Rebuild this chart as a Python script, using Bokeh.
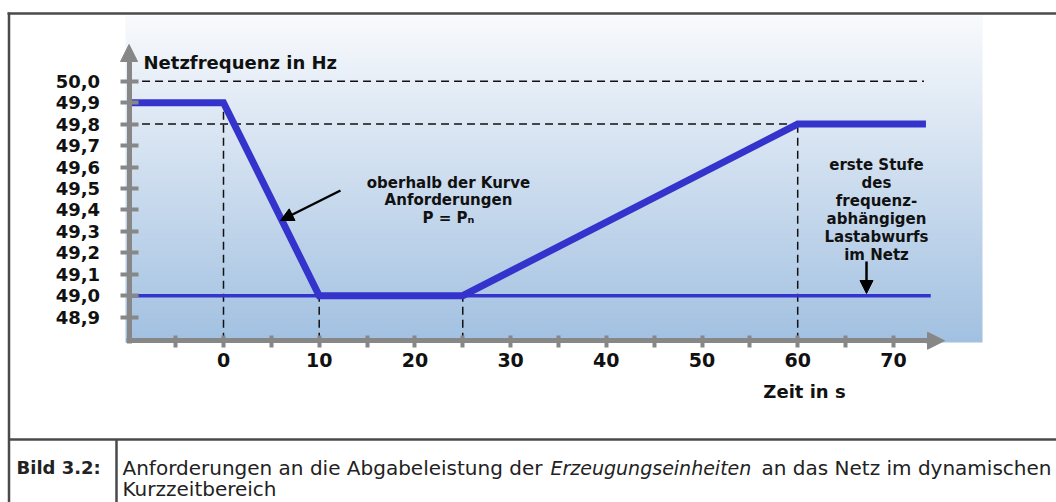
import numpy as np
from bokeh.plotting import figure
from bokeh.models import Range1d, LinearAxis, FixedTicker, Label, Arrow, NormalHead
from bokeh.embed import file_html
from bokeh.resources import INLINE

# ---------------- data ----------------
time_s = [-10, 0, 10, 25, 60, 73.4]            # requirement curve, time in s
freq_hz = [49.9, 49.9, 49.0, 49.0, 49.8, 49.8]  # requirement curve, frequency in Hz
shed_time = [-10, 73.9]                          # first stage of load shedding
shed_freq = [49.0, 49.0]
x_major = [0, 10, 20, 30, 40, 50, 60, 70]
x_minor = [-5, 5, 15, 25, 35, 45, 55, 65]
y_ticks = [48.9, 49.0, 49.1, 49.2, 49.3, 49.4, 49.5, 49.6, 49.7, 49.8, 49.9, 50.0]
y_labels = ["48,9", "49,0", "49,1", "49,2", "49,3", "49,4", "49,5", "49,6",
            "49,7", "49,8", "49,9", "50,0"]
guide_v_x = [0, 10, 25, 60]
guide_v_top = [49.9, 49.0, 49.0, 49.8]
guide_h_y = [50.0, 49.8]
guide_h_end = [73.2, 60]
axis_t0 = -9.87
axis_f0 = 48.79

# ---------------- geometry ----------------
W, H = 1056, 502
KX, KY = 9.57, 214.5     # px per second, px per Hz
X0, Y50 = 223.0, 80.7    # pixel of t=0 and of f=50 Hz


def dx(px):   # picture pixel -> data x
    return (px - X0) / KX


def dy(py):   # picture pixel -> data y
    return 50.0 - (py - Y50) / KY


p = figure(width=W, height=H,
           x_range=Range1d(dx(0), dx(W)), y_range=Range1d(dy(H), dy(0)),
           x_axis_type=None, y_axis_type=None, min_border=0,
           toolbar_location=None, output_backend="svg",
           outline_line_color=None, background_fill_color="white",
           border_fill_color="white")

# gradient background
n = 330
top = np.array([249, 250, 253], dtype=float)
bot = np.array([162, 193, 225], dtype=float)
t = np.linspace(0, 1, n)[:, None]
cols = bot + (top - bot) * t
img = np.empty((n, 1), dtype=np.uint32)
view = img.view(dtype=np.uint8).reshape((n, 1, 4))
view[:, 0, 0:3] = cols.astype(np.uint8)
view[:, 0, 3] = 255
p.image_rgba(image=[img], x=dx(125), y=dy(342), dw=dx(982) - dx(125), dh=dy(15) - dy(342))

# dashed guides
p.segment(x0=[axis_t0] * len(guide_h_y), y0=guide_h_y, x1=guide_h_end, y1=guide_h_y,
          line_color="#111111", line_width=1.5, line_dash="8 5")
p.segment(x0=guide_v_x, y0=[axis_f0] * len(guide_v_x), x1=guide_v_x, y1=guide_v_top,
          line_color="#111111", line_width=1.5, line_dash="8 5")

BLUE = "#3434cc"
p.line(shed_time, shed_freq, line_color=BLUE, line_width=3.5)
p.line(time_s, freq_hz, line_color=BLUE, line_width=7, line_join="miter")

GRAY = "#878787"
FONT = "DejaVu Sans"

xaxis = LinearAxis(fixed_location=axis_f0, bounds=(-10.15, 73.6),
                   ticker=FixedTicker(ticks=x_major, minor_ticks=x_minor),
                   axis_line_color=GRAY, axis_line_width=5,
                   major_tick_line_color=GRAY, major_tick_line_width=4,
                   major_tick_in=5, major_tick_out=7,
                   minor_tick_line_color=GRAY, minor_tick_line_width=4,
                   minor_tick_in=5, minor_tick_out=7,
                   major_label_text_font=FONT, major_label_text_font_style="bold",
                   major_label_text_font_size="19px", major_label_text_color="#111111",
                   major_label_standoff=5)
p.add_layout(xaxis, "below")

yaxis = LinearAxis(fixed_location=axis_t0, bounds=(48.778, 50.11),
                   ticker=FixedTicker(ticks=y_ticks, minor_ticks=[]),
                   major_label_overrides=dict(zip(y_ticks, y_labels)),
                   axis_line_color=GRAY, axis_line_width=5,
                   major_tick_line_color=GRAY, major_tick_line_width=4,
                   major_tick_in=9, major_tick_out=9,
                   minor_tick_line_color=None,
                   major_label_text_font=FONT, major_label_text_font_style="bold",
                   major_label_text_font_size="18px", major_label_text_color="#111111",
                   major_label_standoff=20)
p.add_layout(yaxis, "left")

# axis arrow heads
p.add_layout(Arrow(end=NormalHead(size=17, fill_color=GRAY, line_color=GRAY),
                   x_start=dx(925), y_start=axis_f0, x_end=dx(944), y_end=axis_f0,
                   line_color=GRAY, line_width=5))
p.add_layout(Arrow(end=NormalHead(size=17, fill_color=GRAY, line_color=GRAY),
                   x_start=axis_t0, y_start=dy(60), x_end=axis_t0, y_end=dy(44),
                   line_color=GRAY, line_width=5))

# axis titles
p.add_layout(Label(x=dx(143), y=dy(62), text="Netzfrequenz in Hz", text_font=FONT,
                   text_font_style="bold", text_font_size="18px", text_color="#111111",
                   text_align="left", text_baseline="alphabetic"))
p.add_layout(Label(x=dx(804), y=dy(391), text="Zeit in s", text_font=FONT,
                   text_font_style="bold", text_font_size="18px", text_color="#111111",
                   text_align="center", text_baseline="alphabetic"))

# annotations
for i, line in enumerate(["oberhalb der Kurve", "Anforderungen", "P = P\u2099"]):
    p.add_layout(Label(x=dx(448), y=dy(182 + 17.5 * i), text=line, text_font=FONT,
                       text_font_style="bold", text_font_size="15px", text_color="#111111",
                       text_align="center", text_baseline="alphabetic"))
for i, line in enumerate(["erste Stufe", "des", "frequenz-", "abhängigen",
                          "Lastabwurfs", "im Netz"]):
    p.add_layout(Label(x=dx(876), y=dy(164 + 18 * i), text=line, text_font=FONT,
                       text_font_style="bold", text_font_size="15px", text_color="#111111",
                       text_align="center", text_baseline="alphabetic"))

p.add_layout(Arrow(end=NormalHead(size=13, fill_color="black", line_color="black"),
                   x_start=dx(340), y_start=dy(190), x_end=dx(280), y_end=dy(220),
                   line_color="black", line_width=2.5))
p.add_layout(Arrow(end=NormalHead(size=13, fill_color="black", line_color="black"),
                   x_start=dx(866), y_start=dy(261), x_end=dx(866), y_end=dy(293),
                   line_color="black", line_width=2.5))

# frame / caption table
EDGE = "#4a4a4a"
p.segment(x0=[dx(7), dx(8.5), dx(8), dx(116)],
          y0=[dy(13), dy(12), dy(439), dy(439)],
          x1=[dx(1056), dx(8.5), dx(1056), dx(116)],
          y1=[dy(13), dy(502), dy(439), dy(502)],
          line_color=EDGE, line_width=2.5)

CAP = "#222222"
p.add_layout(Label(x=dx(16), y=dy(467), text="Bild 3.2:", text_font=FONT,
                   text_font_style="bold", text_font_size="18px", text_color=CAP,
                   text_baseline="alphabetic"))
p.add_layout(Label(x=dx(122), y=dy(467), text="Anforderungen an die Abgabeleistung der",
                   text_font=FONT, text_font_size="20px", text_color=CAP,
                   text_baseline="alphabetic"))
p.add_layout(Label(x=dx(550), y=dy(467), text="Erzeugungseinheiten", text_font=FONT,
                   text_font_style="italic", text_font_size="19px", text_color=CAP,
                   text_baseline="alphabetic"))
p.add_layout(Label(x=dx(761), y=dy(467), text="an das Netz im dynamischen",
                   text_font=FONT, text_font_size="20px", text_color=CAP,
                   text_baseline="alphabetic"))
p.add_layout(Label(x=dx(122), y=dy(488), text="Kurzzeitbereich",
                   text_font=FONT, text_font_size="20px", text_color=CAP,
                   text_baseline="alphabetic"))

open("out.html", "w").write(file_html(p, INLINE))
